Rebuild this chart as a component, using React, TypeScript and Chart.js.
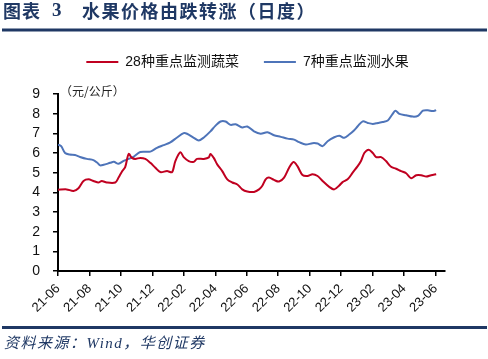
import React, { useEffect, useRef } from "react";
import { Chart, registerables } from "chart.js";

Chart.register(...registerables);

const tickLabels = ["21-06", "21-08", "21-10", "21-12", "22-02", "22-04", "22-06", "22-08", "22-10", "22-12", "23-02", "23-04", "23-06"];
const seriesNames = ["28种重点监测蔬菜", "7种重点监测水果"];

// months since 2021-06
const vegMonths = [0, 0.55, 0.98, 1.3, 1.62, 1.94, 2.25, 2.57, 2.78, 3.1, 3.64, 3.85, 4.06, 4.27, 4.49, 4.7, 4.91, 5.23, 5.55, 5.87, 6.19, 6.5, 6.93, 7.25, 7.46, 7.78, 7.99, 8.31, 8.63, 8.84, 9.27, 9.59, 9.69, 9.9, 10.12, 10.44, 10.76, 11.08, 11.4, 11.71, 12.03, 12.46, 12.78, 13.0, 13.2, 13.41, 13.73, 14.05, 14.37, 14.69, 14.97, 15.22, 15.54, 15.86, 16.18, 16.5, 16.82, 17.24, 17.56, 17.88, 18.09, 18.41, 18.73, 19.05, 19.26, 19.47, 19.75, 20.01, 20.22, 20.54, 20.85, 21.17, 21.49, 21.81, 22.13, 22.45, 22.77, 23.09, 23.41, 23.72, 24.04];
const vegValues = [4.13, 4.15, 4.07, 4.21, 4.58, 4.66, 4.58, 4.5, 4.58, 4.5, 4.5, 4.75, 5.05, 5.28, 5.95, 5.75, 5.7, 5.75, 5.7, 5.5, 5.25, 5.03, 5.08, 5.03, 5.59, 6.04, 5.79, 5.59, 5.55, 5.7, 5.7, 5.78, 5.95, 5.75, 5.42, 5.08, 4.66, 4.5, 4.4, 4.15, 4.04, 4.02, 4.15, 4.35, 4.66, 4.75, 4.63, 4.55, 4.75, 5.25, 5.54, 5.33, 4.88, 4.83, 4.92, 4.83, 4.58, 4.28, 4.15, 4.35, 4.52, 4.66, 5.0, 5.33, 5.59, 6.0, 6.17, 6.0, 5.79, 5.79, 5.59, 5.3, 5.2, 5.08, 4.97, 4.72, 4.87, 4.87, 4.8, 4.87, 4.92];

const fruitMonths = [0, 0.2, 0.45, 0.75, 1.08, 1.4, 1.83, 2.25, 2.5, 2.68, 2.9, 3.32, 3.55, 3.85, 4.17, 4.5, 4.8, 5.23, 5.87, 6.29, 6.72, 7.14, 7.57, 7.99, 8.2, 8.63, 8.95, 9.27, 9.69, 10.0, 10.33, 10.65, 10.97, 11.29, 11.71, 12.03, 12.46, 12.88, 13.31, 13.73, 14.16, 14.59, 15.01, 15.33, 15.75, 16.18, 16.5, 16.82, 17.14, 17.56, 17.88, 18.2, 18.51, 18.83, 19.05, 19.37, 19.69, 20.01, 20.33, 20.64, 20.96, 21.24, 21.45, 21.7, 22.13, 22.56, 22.88, 23.2, 23.51, 23.83, 24.04];
const fruitValues = [6.43, 6.35, 6.0, 5.92, 5.9, 5.8, 5.7, 5.64, 5.5, 5.37, 5.4, 5.5, 5.55, 5.45, 5.6, 5.7, 5.8, 6.05, 6.07, 6.26, 6.4, 6.54, 6.79, 7.01, 6.98, 6.77, 6.64, 6.79, 7.1, 7.38, 7.6, 7.6, 7.43, 7.46, 7.3, 7.35, 7.1, 6.98, 7.05, 6.9, 6.82, 6.73, 6.68, 6.55, 6.43, 6.5, 6.48, 6.35, 6.6, 6.8, 6.88, 6.77, 6.94, 7.16, 7.36, 7.61, 7.53, 7.48, 7.53, 7.58, 7.65, 7.95, 8.15, 7.99, 7.92, 7.85, 7.89, 8.15, 8.17, 8.13, 8.18];

const NAVY = "#1F3864";
const RED = "#C00020";
const BLUE = "#4E74B9";
const FONT = '"Liberation Sans", "Noto Sans CJK SC", sans-serif';
const CJK = '"Noto Sans CJK SC", sans-serif';

export default function App() {
  const ref = useRef<HTMLCanvasElement>(null);

  useEffect(() => {
    document.body.style.margin = "0";
    const canvas = ref.current;
    if (!canvas) return;

    const legendSpacer = {
      id: "legendSpacer",
      beforeUpdate(chart: any) {
        const lg = chart.legend;
        if (lg && !lg.__patched) {
          const origFit = lg.fit;
          lg.fit = function () {
            origFit.call(this);
            this.height += 15;
          };
          const origDraw = lg.draw;
          lg.draw = function () {
            this.ctx.save();
            this.ctx.translate(25, 0);
            origDraw.call(this);
            this.ctx.restore();
          };
          lg.__patched = true;
        }
      },
    };

    const decor = {
      id: "decor",
      afterDraw(chart: any) {
        const ctx = chart.ctx as CanvasRenderingContext2D;
        ctx.save();
        // title
        ctx.fillStyle = NAVY;
        ctx.textBaseline = "middle";
        ctx.textAlign = "left";
        (ctx as any).letterSpacing = "1px";
        ctx.font = `bold 18px ${CJK}`;
        ctx.fillText("图表", 3, 11);
        ctx.font = 'bold 19px "Liberation Serif", serif';
        ctx.fillText("3", 52, 11);
        (ctx as any).letterSpacing = "1.5px";
        ctx.font = `bold 18px ${CJK}`;
        ctx.fillText("水果价格由跌转涨（日度）", 82, 11);
        (ctx as any).letterSpacing = "0px";
        // rules
        ctx.fillStyle = NAVY;
        ctx.fillRect(2, 28.5, 485, 3);
        ctx.fillRect(2, 326, 485, 3);
        // unit
        ctx.fillStyle = "#222";
        ctx.font = `12px ${CJK}`;
        ctx.fillText("（元/公斤）", 60, 91);
        // source
        ctx.fillStyle = NAVY;
        (ctx as any).letterSpacing = "1.5px";
        ctx.font = `italic 15px "Liberation Serif", "Noto Sans CJK SC", serif`;
        ctx.fillText("资料来源：Wind，华创证券", 4, 344);
        ctx.restore();
      },
    };

    const chart = new Chart(canvas, {
      type: "line",
      data: {
        datasets: [
          {
            label: seriesNames[0],
            data: vegMonths.map((m, i) => ({ x: m, y: vegValues[i] })),
            borderColor: RED,
            backgroundColor: RED,
            borderWidth: 2,
            pointRadius: 0,
            tension: 0.3,
          },
          {
            label: seriesNames[1],
            data: fruitMonths.map((m, i) => ({ x: m, y: fruitValues[i] })),
            borderColor: BLUE,
            backgroundColor: BLUE,
            borderWidth: 2,
            pointRadius: 0,
            tension: 0.3,
          },
        ],
      },
      options: {
        animation: false,
        responsive: false,
        devicePixelRatio: 1,
        layout: { padding: { top: 30, left: 0, right: 43, bottom: 41 } },
        plugins: {
          tooltip: { enabled: false },
          legend: {
            position: "top",
            align: "center",
            labels: {
              boxWidth: 32,
              boxHeight: 2,
              padding: 25,
              color: "#111",
              font: { family: FONT, size: 14 },
              generateLabels: (c: any) =>
                (Chart.defaults.plugins.legend.labels.generateLabels as any)(c).map((l: any) => ({ ...l, lineWidth: 0 })),
            },
          },
        },
        scales: {
          x: {
            type: "linear",
            min: 0,
            max: 24.6,
            afterFit: (s: any) => {
              s.height = 47;
            },
            border: { display: true, color: "#000", width: 2 },
            grid: { drawOnChartArea: false, drawTicks: true, tickLength: 5, color: "#000", lineWidth: 1.5 },
            ticks: {
              stepSize: 2,
              includeBounds: false,
              autoSkip: false,
              maxRotation: 45,
              minRotation: 45,
              padding: 5,
              color: "#111",
              font: { family: FONT, size: 13 },
              callback: (v: any) => tickLabels[Math.round(Number(v) / 2)] ?? "",
            },
          },
          y: {
            min: 0,
            max: 9,
            afterFit: (s: any) => {
              s.width = 58;
            },
            border: { display: true, color: "#000", width: 2 },
            grid: { drawOnChartArea: false, drawTicks: true, tickLength: 5, color: "#000", lineWidth: 1.5 },
            ticks: {
              stepSize: 1,
              autoSkip: false,
              padding: 13,
              color: "#111",
              font: { family: FONT, size: 14 },
            },
          },
        },
      },
      plugins: [legendSpacer, decor],
    } as any);

    return () => chart.destroy();
  }, []);

  return (
    <div style={{ position: "absolute", left: 0, top: 0, width: 488, height: 359, background: "#fff" }}>
      <canvas ref={ref} width={488} height={359} style={{ width: 488, height: 359, display: "block" }} />
    </div>
  );
}
